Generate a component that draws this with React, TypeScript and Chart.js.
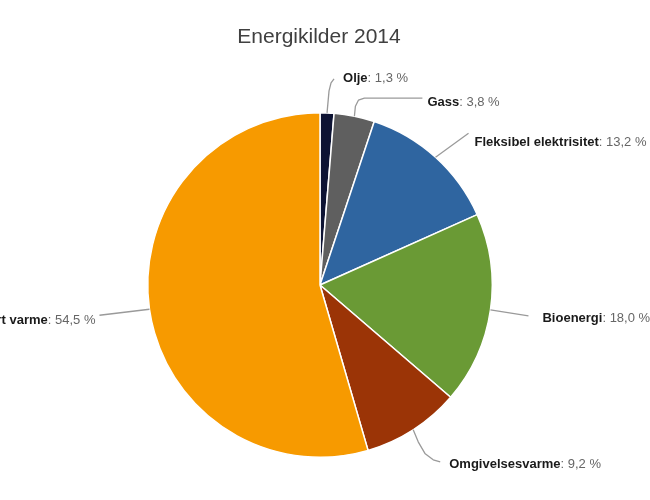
import React, { useEffect, useRef } from "react";
import { Chart, registerables } from "chart.js";

Chart.register(...registerables);

const chartTitle = "Energikilder 2014";
const categories = [
  "Olje",
  "Gass",
  "Fleksibel elektrisitet",
  "Bioenergi",
  "Omgivelsesvarme",
  "Avfallsbasert varme",
];
const values = [1.3, 3.8, 13.2, 18.0, 9.2, 54.5];
const sliceColors = ["#0d1333", "#5f5f5f", "#2f65a0", "#6a9a35", "#9b3406", "#f79a00"];

// Leader line paths (relative to slice outer midpoint) and label anchors
const leaderPaths: number[][][] = [
  [[0, 0], [2, -22], [4, -30], [7, -34]],
  [[0, 0], [1, -10], [4, -16], [10, -18], [68, -18]],
  [[0, 0], [33, -24]],
  [[0, 0], [38, 6]],
  [[0, 0], [5, 12], [12, 24], [20, 30], [27, 32]],
  [[0, 0], [-50, 6]],
];
const labelAnchors: [number, number, "left" | "right"][] = [
  [16, -34, "left"],
  [73, -14, "left"],
  [39, -15, "left"],
  [52, 9, "left"],
  [36, 35, "left"],
  [-54, 11, "right"],
];

const fmt = (v: number) => v.toFixed(1).replace(".", ",") + " %";

const labelPlugin = {
  id: "pieLabels",
  afterDraw(chart: any) {
    const ctx = chart.ctx as CanvasRenderingContext2D;
    ctx.save();
    // title
    ctx.font = '21px "Liberation Sans", Arial, sans-serif';
    ctx.fillStyle = "#404040";
    ctx.textAlign = "center";
    ctx.textBaseline = "middle";
    ctx.fillText(chartTitle, 319, 37);

    const meta = chart.getDatasetMeta(0);
    meta.data.forEach((arc: any, i: number) => {
      const p = arc.getProps(["x", "y", "startAngle", "endAngle", "outerRadius"], true);
      const mid = (p.startAngle + p.endAngle) / 2;
      const ax = p.x + Math.cos(mid) * p.outerRadius;
      const ay = p.y + Math.sin(mid) * p.outerRadius;
      const path = leaderPaths[i];
      ctx.beginPath();
      ctx.strokeStyle = "#9a9a9a";
      ctx.lineWidth = 1.3;
      ctx.lineJoin = "round";
      path.forEach(([dx, dy], k) => {
        if (k === 0) ctx.moveTo(ax + dx, ay + dy);
        else ctx.lineTo(ax + dx, ay + dy);
      });
      ctx.stroke();

      const [lx, ly, align] = labelAnchors[i];
      const name = categories[i];
      const val = ": " + fmt(values[i]);
      const boldFont = 'bold 13px "Liberation Sans", Arial, sans-serif';
      const regFont = '13px "Liberation Sans", Arial, sans-serif';
      ctx.font = boldFont;
      const wName = ctx.measureText(name).width;
      ctx.font = regFont;
      const wVal = ctx.measureText(val).width;
      let x = ax + lx;
      const y = ay + ly;
      if (align === "right") x -= wName + wVal;
      ctx.textAlign = "left";
      ctx.textBaseline = "middle";
      ctx.font = boldFont;
      ctx.fillStyle = "#1a1a1a";
      ctx.fillText(name, x, y);
      ctx.font = regFont;
      ctx.fillStyle = "#666666";
      ctx.fillText(val, x + wName, y);
    });
    ctx.restore();
  },
};

export default function App() {
  const canvasRef = useRef<HTMLCanvasElement | null>(null);

  useEffect(() => {
    document.body.style.margin = "0";
    const canvas = canvasRef.current;
    if (!canvas) return;
    const chart = new Chart(canvas, {
      type: "pie",
      data: {
        labels: categories,
        datasets: [
          {
            data: values,
            backgroundColor: sliceColors,
            borderColor: "#ffffff",
            borderWidth: 1.5,
            hoverOffset: 0,
            offset: 0,
          },
        ],
      },
      options: {
        responsive: false,
        animation: false,
        events: [],
        layout: { padding: { top: 112, bottom: 42, left: 0, right: 10 } },
        plugins: {
          legend: { display: false },
          tooltip: { enabled: false },
          title: { display: false },
        },
      },
      plugins: [labelPlugin],
    });
    return () => chart.destroy();
  }, []);

  return (
    <div style={{ width: 650, height: 500, background: "#ffffff" }}>
      <canvas ref={canvasRef} width={650} height={500} style={{ display: "block" }} />
    </div>
  );
}
